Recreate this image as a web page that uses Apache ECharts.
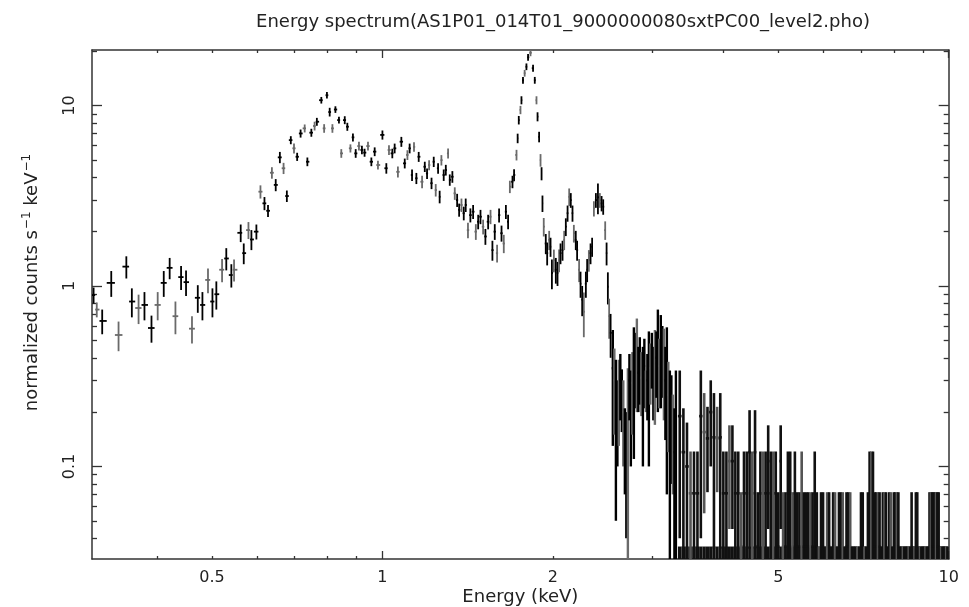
<!DOCTYPE html>
<html>
<head>
<meta charset="utf-8">
<script src="https://cdn.jsdelivr.net/npm/echarts@6/dist/echarts.min.js"></script>
<style>
html,body{margin:0;padding:0;background:#ffffff;}
#chart{width:969px;height:607px;}
</style>
</head>
<body>
<div id="chart"></div>
<script>
// ---------------- data ----------------
const titleText = 'Energy spectrum(AS1P01_014T01_9000000080sxtPC00_level2.pho)';
const xName = 'Energy (keV)';

// soft band + Si line region: bin centre (keV), rate (counts/s/keV), 1-sigma error
const energy = [
  0.309,0.313,0.320,0.332,0.342,0.353,0.361,0.371,0.380,0.391,
  0.401,0.411,0.421,0.431,0.441,0.450,0.461,0.472,0.481,0.492,
  0.501,0.509,0.521,0.530,0.541,0.547,0.562,0.569,0.580,0.587,
  0.599,0.609,0.619,0.628,0.638,0.648,0.659,0.669,0.678,0.689,
  0.698,0.707,0.717,0.729,0.737,0.749,0.759,0.766,0.780,0.789,
  0.798,0.807,0.816,0.826,0.838,0.846,0.858,0.867,0.878,0.887,
  0.897,0.909,0.920,0.930,0.943,0.956,0.969,0.982,
  1.000,1.016,1.027,1.041,1.051,1.065,1.080,1.095,1.107,1.117,
  1.128,1.137,1.148,1.159,1.175,1.188,1.199,1.209,1.221,1.232,
  1.242,1.254,1.262,1.271,1.283,1.294,1.306,1.315,1.329,1.342,
  1.355,1.366,1.379,1.392,1.403,1.416,1.430,1.446,1.462,1.476,
  1.490,1.506,1.520,1.537,1.552,1.564,1.579,1.594,1.607,1.623,
  1.638,1.652,1.667,1.679,1.697,1.708,1.725,1.733,1.741,1.753,
  1.760,1.771,1.783,1.796,1.808,1.826,1.845,1.858,1.871,1.879,
  1.891,1.902,1.910,1.917,1.927,1.943,1.954,1.970,1.981,1.992,
  2.008,2.024,2.038,2.051,2.063,2.080,2.094,2.108,2.123,2.137,
  2.151,2.166,2.178,2.195,2.207,2.225,2.238,2.253,2.268,2.287,
  2.299,2.315,2.331,2.346,2.363,2.382,2.402,2.421,2.438,2.454,
  2.474,2.488,2.501,2.514,2.529,
  2.552,2.568,2.584,2.600,2.615,2.631,2.647,2.663,2.680,2.696,
  2.713,2.730,2.746,2.763,2.780,2.797,2.814,2.831,2.848,2.866,
  2.884,2.901,2.919,2.937,2.955,2.973,2.991,3.009,3.028,3.046,
  3.065,3.083,3.102,3.121,3.141,3.160,3.179,3.198,3.218,3.238,
  3.258,3.278,3.298
];
const rate = [
  0.89,0.74,0.64,1.04,0.535,1.28,0.82,0.755,0.785,0.585,
  0.785,1.04,1.26,0.68,1.12,1.05,0.58,0.86,0.785,1.08,
  0.82,0.90,1.23,1.42,1.15,1.23,1.97,1.52,2.04,1.81,
  2.0,3.33,2.87,2.61,4.24,3.63,5.16,4.49,3.15,6.43,
  5.79,5.2,7.0,7.47,4.88,7.07,7.7,8.13,10.7,7.47,
  11.4,9.2,7.47,9.5,8.3,5.43,8.3,7.63,5.79,6.66,
  5.43,5.96,5.67,5.48,5.96,4.88,5.55,4.68,
  6.87,4.49,5.67,5.43,5.79,4.29,6.3,4.78,5.32,5.79,
  4.12,5.9,3.95,5.2,3.78,4.58,4.2,4.68,3.71,4.88,
  3.4,4.49,3.12,4.98,4.12,4.39,5.43,3.87,4.03,3.26,
  2.99,2.64,2.81,2.53,2.81,2.04,2.47,2.58,2.0,2.27,
  2.42,2.13,1.88,2.27,2.42,1.58,2.0,1.52,2.47,1.96,
  1.72,2.58,2.27,3.55,3.78,4.12,5.32,6.58,8.3,9.45,
  10.7,13.8,15.1,16.4,18.5,19.6,16.1,13.8,10.7,8.67,
  6.7,4.98,4.2,2.87,2.13,1.72,1.52,1.8,1.65,1.18,
  1.39,1.23,1.18,1.39,1.52,1.58,1.8,2.13,2.53,3.12,
  2.99,2.53,1.96,1.8,1.58,1.23,1.03,0.84,0.72,1.03,
  1.23,1.39,1.52,1.65,2.69,2.99,3.1,2.99,2.87,2.75,
  2.04,1.52,0.99,0.68,0.55,
  0.35,0.30,0.22,0.20,0.26,0.30,0.25,0.20,0.14,0.12,
  0.18,0.30,0.22,0.29,0.35,0.38,0.43,0.33,0.37,0.31,
  0.28,0.36,0.27,0.30,0.33,0.35,0.41,0.32,0.37,0.40,
  0.47,0.36,0.45,0.42,0.38,0.30,0.33,0.25,0.17,0.20,
  0.16,0.12,0.17
];
const rateErr = [
  0.09,0.07,0.1,0.17,0.1,0.18,0.15,0.14,0.14,0.1,
  0.14,0.17,0.17,0.14,0.17,0.17,0.1,0.15,0.14,0.17,
  0.15,0.16,0.18,0.2,0.17,0.17,0.22,0.2,0.22,0.23,
  0.19,0.28,0.24,0.2,0.31,0.28,0.37,0.32,0.23,0.33,
  0.37,0.27,0.36,0.38,0.27,0.36,0.43,0.41,0.45,0.41,
  0.48,0.51,0.41,0.40,0.35,0.3,0.42,0.39,0.30,0.34,
  0.3,0.33,0.31,0.28,0.33,0.27,0.31,0.26,
  0.4,0.3,0.36,0.33,0.36,0.3,0.4,0.3,0.33,0.36,
  0.3,0.36,0.28,0.33,0.3,0.3,0.28,0.3,0.27,0.32,
  0.27,0.3,0.25,0.33,0.3,0.3,0.35,0.28,0.3,0.26,
  0.25,0.22,0.24,0.22,0.24,0.2,0.22,0.23,0.2,0.21,
  0.22,0.2,0.19,0.21,0.22,0.2,0.2,0.17,0.22,0.2,
  0.2,0.23,0.21,0.28,0.3,0.32,0.36,0.4,0.45,0.5,
  0.55,0.6,0.65,0.7,0.8,0.85,0.7,0.6,0.55,0.5,
  0.45,0.4,0.35,0.3,0.25,0.22,0.22,0.22,0.2,0.22,
  0.2,0.2,0.18,0.2,0.2,0.2,0.22,0.24,0.26,0.35,
  0.28,0.26,0.22,0.22,0.2,0.18,0.17,0.16,0.2,0.17,
  0.18,0.19,0.2,0.2,0.26,0.28,0.6,0.28,0.28,0.27,
  0.24,0.22,0.2,0.17,0.15,
  0.22,0.15,0.17,0.10,0.13,0.12,0.095,0.10,0.07,0.08,
  0.17,0.12,0.12,0.14,0.24,0.17,0.23,0.13,0.15,0.12,
  0.18,0.15,0.07,0.12,0.23,0.13,0.14,0.14,0.2,0.16,
  0.27,0.15,0.24,0.18,0.2,0.16,0.26,0.13,0.17,0.12,
  0.09,0.09,0.17
];

// hard band (few counts per bin): bin centre, rate (0 = empty bin), error / upper extent
const hiEnergy = [
  3.35,3.40,3.45,3.50,3.55,3.60,3.65,3.70,3.75,3.80,
  3.85,3.90,3.95,4.00,4.05,4.10,4.15,4.20,4.25,4.30,
  4.35,4.40,4.45,4.50,4.55,4.60,4.65,4.70,4.75,4.80,
  4.85,4.90,4.95,5.00,5.05,5.10,5.15,5.20,5.25,5.30,
  5.35,5.40,5.45,5.50,5.55,5.60,5.65,5.70,5.75,5.80,
  5.85,5.90,5.95,6.00,6.05,6.10,6.15,6.20,6.25,6.30,
  6.35,6.40,6.45,6.50,6.55,6.60,6.65,6.70,6.75,6.80,
  6.85,6.90,6.95,7.00,7.05,7.10,7.15,7.20,7.25,7.30,
  7.35,7.40,7.45,7.50,7.55,7.60,7.65,7.70,7.75,7.80,
  7.85,7.90,7.95,8.00,8.05,8.10,8.15,8.20,8.25,8.30,
  8.35,8.40,8.45,8.50,8.55,8.60,8.65,8.70,8.75,8.80,
  8.85,8.90,8.95,9.00,9.05,9.10,9.15,9.20,9.25,9.30,
  9.35,9.40,9.45,9.50,9.55,9.60,9.65,9.70,9.75,9.80,
  9.85,9.90,9.95
];
const hiRate = [
  0.19,0.12,0.1,0.071,0.071,0.071,0.19,0.155,0.143,0.2,
  0.145,0.143,0.145,0.071,0.071,0.107,0.107,0.071,0.071,0.036,
  0.071,0.071,0.12,0.071,0.12,0.036,0.071,0.071,0.071,0.107,
  0.071,0.071,0.071,0.036,0.107,0.036,0.036,0.071,0.071,0.036,
  0.071,0.036,0.036,0.071,0.036,0.036,0.036,0.036,0.036,0.071,
  0.036,0,0.036,0.036,0,0.036,0.036,0,0.036,0.036,
  0,0.036,0.036,0.036,0,0.036,0.036,0.036,0,0,
  0,0,0,0.036,0.036,0,0,0.036,0.071,0.071,
  0.071,0.036,0.036,0.036,0.036,0,0.036,0.036,0.036,0,
  0.036,0.036,0,0.036,0.036,0.036,0.036,0,0,0,
  0,0,0,0,0,0.036,0,0,0.036,0.036,
  0,0,0,0,0,0,0,0,0.036,0.036,
  0.036,0.036,0.036,0.036,0.036,0.036,0,0,0,0,
  0,0,0
];
const hiErr = [
  0.15,0.09,0.075,0.05,0.05,0.05,0.15,0.1,0.071,0.1,
  0.11,0.071,0.11,0.05,0.05,0.062,0.062,0.05,0.05,0.036,
  0.05,0.05,0.085,0.05,0.085,0.036,0.05,0.05,0.05,0.062,
  0.05,0.05,0.05,0.036,0.062,0.036,0.036,0.05,0.05,0.036,
  0.05,0.036,0.036,0.05,0.036,0.036,0.036,0.036,0.036,0.05,
  0.036,0.036,0.036,0.036,0.036,0.036,0.036,0.036,0.036,0.036,
  0.036,0.036,0.036,0.036,0.036,0.036,0.036,0.036,0.036,0.036,
  0.036,0.036,0.036,0.036,0.036,0.036,0.036,0.036,0.05,0.05,
  0.05,0.036,0.036,0.036,0.036,0.036,0.036,0.036,0.036,0.036,
  0.036,0.036,0.036,0.036,0.036,0.036,0.036,0.036,0.036,0.036,
  0.036,0.036,0.036,0.036,0.036,0.036,0.036,0.036,0.036,0.036,
  0.036,0.036,0.036,0.036,0.036,0.036,0.036,0.036,0.036,0.036,
  0.036,0.036,0.036,0.036,0.036,0.036,0.036,0.036,0.036,0.036,
  0.036,0.036,0.036
];
// rate of a single count in one hard-band bin (the floor level in the picture)
const oneCount = 0.036;

// axes
const xMin = 0.307, xMax = 10;
const yMin = 0.0307, yMax = 20.3;
const xTickValues = [0.5, 1, 2, 5, 10];
const xTickText = ['0.5', '1', '2', '5', '10'];
const xMajorTicks = [1, 10];
const xMinorTicks = [0.4, 0.5, 0.6, 0.7, 0.8, 0.9, 2, 3, 4, 5, 6, 7, 8, 9];
const yTickValues = [0.1, 1, 10];
const yTickText = ['0.1', '1', '10'];
const yMajorTicks = [0.1, 1, 10];
const yMinorTicks = [0.04, 0.05, 0.06, 0.07, 0.08, 0.09, 0.2, 0.3, 0.4, 0.5, 0.6, 0.7, 0.8, 0.9, 2, 3, 4, 5, 6, 7, 8, 9, 20];

// ---------------- drawing ----------------
const FONT = 'DejaVu Sans';
const INK = '#222';
const FRAME = '#333';

function labelFor(values, texts) {
  return function (v) {
    let best = 0, bd = Infinity;
    for (let k = 0; k < values.length; k++) {
      const d = Math.abs(Math.log(v) - Math.log(values[k]));
      if (d < bd) { bd = d; best = k; }
    }
    return texts[best];
  };
}

function errorBarRenderer(E, V, D, lwFn, colorFn, floorLevel) {
  return function (params, api) {
    const i = params.dataIndex;
    const cs = params.coordSys;
    const left = cs.x, right = cs.x + cs.width, top = cs.y, bottom = cs.y + cs.height;
    const e = E[i], v = V[i], d = D[i];
    const eLo = i > 0 ? Math.sqrt(E[i - 1] * e) : e * e / Math.sqrt(E[i + 1] * e);
    const eHi = i < E.length - 1 ? Math.sqrt(E[i + 1] * e) : e * e / Math.sqrt(E[i - 1] * e);
    const cx = (x) => Math.max(left, Math.min(right, x));
    const cy = (y) => Math.max(top, Math.min(bottom, y));
    const xc = api.coord([e, 1])[0];
    const stroke = colorFn(i);
    const lw = lwFn(i);
    const children = [];
    if (floorLevel) {
      // the overlapping one-count bars merge into a solid floor band
      const yf = cy(api.coord([e, floorLevel])[1]);
      const x1 = cx(api.coord([eLo, 1])[0]);
      const x2 = cx(api.coord([eHi, 1])[0]);
      children.push({ type: 'rect', shape: { x: x1, y: yf, width: Math.max(0, x2 - x1), height: bottom - yf },
        style: { fill: '#111111' } });
    }
    const yTop = cy(api.coord([e, v + d])[1]);
    const yBot = (v - d) > 0 ? cy(api.coord([e, v - d])[1]) : bottom;
    if (xc >= left && xc <= right && yBot > yTop) {
      children.push({ type: 'line', shape: { x1: xc, y1: yTop, x2: xc, y2: yBot },
        style: { stroke: stroke, lineWidth: lw } });
    }
    if (v > 0) {
      const yc = api.coord([e, v])[1];
      if (yc >= top && yc <= bottom) {
        const x1 = cx(api.coord([eLo, v])[0]);
        const x2 = cx(api.coord([eHi, v])[0]);
        children.push({ type: 'line', shape: { x1: x1, y1: yc, x2: x2, y2: yc },
          style: { stroke: stroke, lineWidth: lw } });
      }
    }
    return { type: 'group', children: children };
  };
}

function xAxisDef(position, tickValues, tickLen, withLabels) {
  return {
    type: 'log', logBase: 10, min: xMin, max: xMax, position: position, gridIndex: 0,
    axisLine: { show: withLabels !== null, onZero: false, lineStyle: { color: FRAME, width: 1.5 } },
    axisTick: { show: true, inside: true, length: tickLen, customValues: tickValues,
      lineStyle: { color: FRAME, width: 1.3 } },
    axisLabel: withLabels ? {
      show: true, customValues: xTickValues, formatter: labelFor(xTickValues, xTickText),
      margin: 11, fontSize: 16, fontFamily: FONT, color: INK
    } : { show: false },
    splitLine: { show: false }, minorTick: { show: false }, minorSplitLine: { show: false }
  };
}
function yAxisDef(position, tickValues, tickLen, withLabels) {
  const def = {
    type: 'log', logBase: 10, min: yMin, max: yMax, position: position, gridIndex: 0,
    axisLine: { show: withLabels !== null, onZero: false, lineStyle: { color: FRAME, width: 1.5 } },
    axisTick: { show: true, inside: true, length: tickLen, customValues: tickValues,
      lineStyle: { color: FRAME, width: 1.3 } },
    axisLabel: withLabels ? {
      show: true, customValues: yTickValues, formatter: labelFor(yTickValues, yTickText),
      rotate: 90, margin: 14, fontSize: 16, fontFamily: FONT, color: INK
    } : { show: false },
    splitLine: { show: false }, minorTick: { show: false }, minorSplitLine: { show: false }
  };
  if (withLabels) {
    def.name = '{n|normalized counts s}{s|\u22121}{n| keV}{s|\u22121}';
    def.nameLocation = 'middle';
    def.nameRotate = 90;
    def.nameGap = 48;
    def.nameMoveOverlap = false;
    def.nameTextStyle = {
      fontFamily: FONT, fontSize: 18, color: INK, padding: [0, 0, 0, 44],
      rich: {
        n: { fontFamily: FONT, fontSize: 18, color: INK },
        s: { fontFamily: FONT, fontSize: 12, color: INK, padding: [0, 0, 11, 1] }
      }
    };
  }
  return def;
}

const xAxes = [
  xAxisDef('bottom', xMajorTicks, 8, true),
  xAxisDef('bottom', xMinorTicks, 3, null),
  xAxisDef('top', xMajorTicks, 8, false),
  xAxisDef('top', xMinorTicks, 3, null)
];
xAxes[0].name = xName;
xAxes[0].nameLocation = 'middle';
xAxes[0].nameGap = 29;
xAxes[0].nameMoveOverlap = false;
xAxes[0].nameTextStyle = { fontFamily: FONT, fontSize: 18, color: INK };

const yAxes = [
  yAxisDef('left', yMajorTicks, 10, true),
  yAxisDef('left', yMinorTicks, 5, null),
  yAxisDef('right', yMajorTicks, 10, false),
  yAxisDef('right', yMinorTicks, 5, null)
];

const chart = echarts.init(document.getElementById('chart'), null, { renderer: 'canvas' });
chart.setOption({
  animation: false,
  backgroundColor: '#ffffff',
  title: {
    text: titleText, left: 558, top: 8, textAlign: 'center',
    textStyle: { fontFamily: FONT, fontSize: 18, fontWeight: 'normal', color: INK }
  },
  grid: { left: 92, right: 20.3, top: 50, bottom: 48, containLabel: false, outerBoundsMode: 'none' },
  xAxis: xAxes,
  yAxis: yAxes,
  series: [
    {
      type: 'custom', name: 'soft', xAxisIndex: 0, yAxisIndex: 0, silent: true, clip: true,
      renderItem: errorBarRenderer(energy, rate, rateErr,
        (i) => (energy[i] > 2.54 ? 2.4 : 1.8),
        (i) => (i % 3 === 1 ? '#6a6a6a' : '#000000'), null),
      data: energy.map((e, i) => [e, rate[i], rateErr[i]]),
      encode: { x: 0, y: 1 }
    },
    {
      type: 'custom', name: 'hard', xAxisIndex: 0, yAxisIndex: 0, silent: true, clip: true,
      renderItem: errorBarRenderer(hiEnergy, hiRate, hiErr, (i) => 2.6,
        (i) => (i % 4 === 3 ? '#555555' : '#111111'), oneCount),
      data: hiEnergy.map((e, i) => [e, hiErr[i], hiRate[i]]),
      encode: { x: 0, y: 1 }
    }
  ]
});
</script>
</body>
</html>
